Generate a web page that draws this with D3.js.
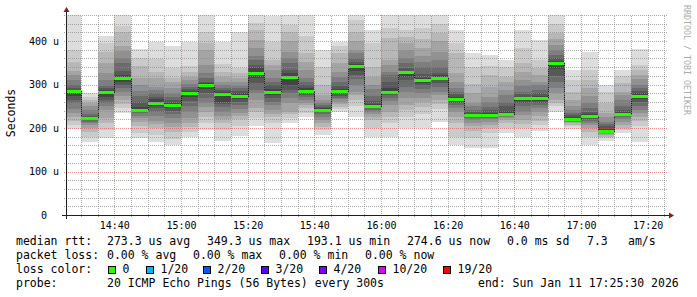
<!DOCTYPE html>
<html>
<head>
<meta charset="utf-8">
<script src="https://d3js.org/d3.v7.min.js"></script>
<style>
  body { margin: 0; background: #fff; }
  svg { display: block; font-family: 'DejaVu Sans Mono', monospace; }
</style>
</head>
<body>
<svg width="697" height="297"></svg>
<script>

// 5 minute bins (start time of each bin)
var binStarts = ['14:25','14:30','14:35','14:40','14:45','14:50','14:55','15:00','15:05','15:10',
  '15:15','15:20','15:25','15:30','15:35','15:40','15:45','15:50','15:55','16:00',
  '16:05','16:10','16:15','16:20','16:25','16:30','16:35','16:40','16:45','16:50',
  '16:55','17:00','17:05','17:10','17:15'];

// median rtt per bin (us)
var medians = [285, 223, 282, 314, 241.5, 258, 252, 281.5, 298, 278,
  274, 326, 282, 318, 286, 242, 285, 343, 251, 283,
  328, 310, 316, 266, 229, 229, 232, 268, 268, 349.3,
  220, 227, 193.1, 233, 274.6];

// the 20 sorted pings per bin (us), used for the smoke
var pings = [
  [197,207,217,226,235,244,257,265,274,283,286,288,293,299,310,322,331,353,380,461],
  [168,180,192,200,207,212,215,218,220,222,224,226,228,232,242,250,257,265,272,280],
  [176,195,212,222,241,251,258,265,272,280,284,288,292,297,310,326,350,376,395,412],
  [235,245,255,265,274,284,292,299,307,312,316,322,332,349,361,378,389,420,434,461],
  [178,189,205,215,222,228,234,237,239,240,243,249,261,274,285,300,315,343,361,382],
  [168,184,199,210,217,228,238,245,250,256,260,266,272,280,288,295,315,330,358,399],
  [161,175,192,202,212,222,232,240,246,250,254,258,265,272,280,292,305,315,338,389],
  [180,192,202,211,222,238,250,263,272,280,283,286,290,295,302,310,318,330,342,399],
  [195,211,225,238,249,258,268,280,290,296,300,303,307,315,326,345,380,395,422,461],
  [171,195,211,220,228,238,249,255,261,276,280,283,288,292,299,306,318,330,348,399],
  [182,205,220,228,234,243,252,260,266,272,276,280,285,292,297,307,315,326,338,422],
  [205,222,238,245,265,280,288,303,315,323,330,338,345,357,365,385,403,425,442,461],
  [165,211,225,232,242,252,261,268,275,280,284,290,299,307,315,334,345,357,397,457],
  [211,222,232,238,258,270,280,288,300,316,320,326,334,349,362,376,400,422,438,461],
  [226,235,245,252,258,265,272,276,280,284,288,292,299,307,315,334,352,372,411,461],
  [184,195,203,211,218,226,232,236,239,241,243,245,248,253,258,265,276,299,340,380],
  [238,243,249,255,261,266,270,274,280,283,287,290,296,307,318,330,350,372,388,399],
  [226,250,265,275,284,300,312,322,332,340,345,348,353,361,372,380,400,422,449,461],
  [180,200,218,226,232,238,242,246,248,250,252,255,262,274,289,300,318,340,395,426],
  [180,211,225,238,253,262,268,275,279,281,285,292,305,322,330,345,357,407,430,461],
  [199,226,242,253,268,282,295,310,318,326,329,332,338,349,362,380,396,410,425,461],
  [199,232,249,260,268,280,290,298,304,309,311,315,325,340,353,365,385,405,430,461],
  [215,243,255,265,275,284,295,303,310,314,318,322,326,340,357,376,400,418,440,461],
  [161,180,211,226,238,245,252,258,262,264,268,272,278,284,292,305,326,372,395,426],
  [153,176,194,205,212,218,222,225,227,228,230,233,237,242,250,258,280,301,340,372],
  [153,188,199,208,215,220,224,226,227,228,230,235,242,249,260,272,295,322,342,368],
  [189,199,211,218,222,226,228,230,231,231,234,240,250,261,275,288,305,318,340,357],
  [180,200,210,219,230,238,250,258,263,267,269,272,278,284,296,311,330,350,384,426],
  [194,207,217,227,238,245,252,258,263,267,269,273,280,288,298,307,322,338,357,403],
  [236,250,258,265,280,292,305,320,335,347,351,355,362,369,380,392,405,419,440,461],
  [197,204,208,211,213,215,216,217,218,219,222,226,230,234,242,250,265,284,311,334],
  [160,180,192,200,207,212,216,220,223,226,228,232,238,246,257,274,292,311,334,374],
  [171,176,180,184,186,188,189,190,191,192,195,198,204,210,215,225,234,257,284,300],
  [188,196,200,208,214,220,225,228,230,232,234,238,242,250,265,275,284,303,319,334],
  [169,205,217,226,234,242,250,260,266,272,276,280,286,292,300,312,323,334,346,382]
];

var yTickValues = [0, 100, 200, 300, 400];
var timeLabels = ['14:40','15:00','15:20','15:40','16:00','16:20','16:40','17:00','17:20'];

var lossLabels = ['0', '1/20', '2/20', '3/20', '4/20', '10/20', '19/20'];
var lossColors = ['#26ff00', '#00b8ff', '#0059ff', '#5e00ff', '#7e00ff', '#dd00ff', '#ff0000'];

var statsRtt = ['273.3 us avg', '349.3 us max', '193.1 us min', '274.6 us now', '0.0 ms sd', '7.3', 'am/s'];
var statsLoss = ['0.00 % avg', '0.00 % max', '0.00 % min', '0.00 % now'];
var probeText = '20 ICMP Echo Pings (56 Bytes) every 300s';
var endText = 'end: Sun Jan 11 17:25:30 2026';

function hm(s) {
  var p = s.split(':');
  return new Date(Date.UTC(2026, 0, 11, +p[0], +p[1], 0));
}
var t0 = new Date(Date.UTC(2026, 0, 11, 14, 25, 30));
var t1 = new Date(Date.UTC(2026, 0, 11, 17, 25, 30));
var step = 5 * 60 * 1000;

var X0 = 66, X1 = 666, Y0 = 215, Y1 = 15;
var x = d3.scaleUtc().domain([t0, t1]).range([X0, X1]);
var y = d3.scaleLinear().domain([0, 460]).range([Y0, Y1]);

var svg = d3.select('svg');

svg.append('defs').append('clipPath').attr('id', 'plot')
  .append('rect').attr('x', X0).attr('y', Y1).attr('width', X1 - X0).attr('height', Y0 - Y1);

var bins = binStarts.map(function(s, i) {
  var a = hm(s);
  return { a: a < t0 ? t0 : a, b: new Date(+hm(s) + step), med: medians[i], p: pings[i] };
});

var plot = svg.append('g').attr('clip-path', 'url(#plot)');

// smoke: band k spans ping k .. ping 21-k, darker towards the median
var bands = [];
bins.forEach(function(d) {
  for (var k = 1; k <= 10; k++) {
    bands.push({ a: d.a, b: d.b, lo: d.p[k - 1], hi: d.p[20 - k], k: k });
  }
});
plot.selectAll('rect.smoke')
  .data(bands)
  .enter().append('rect')
  .attr('class', 'smoke')
  .attr('x', function(d) { return Math.round(x(d.a)); })
  .attr('width', function(d) { return Math.round(x(d.b)) - Math.round(x(d.a)); })
  .attr('y', function(d) { return Math.round(y(d.hi)); })
  .attr('height', function(d) { return Math.max(1, Math.round(y(d.lo)) - Math.round(y(d.hi))); })
  .attr('shape-rendering', 'crispEdges')
  .attr('fill', function(d) {
    var c = Math.floor(19 * (10 - d.k)) + 50;
    return d3.rgb(c, c, c);
  });

// dark median step line
var stepPts = bins.map(function(d) { return [Math.round(x(d.a)), Math.round(y(d.med)) + 0.5]; });
var last = bins[bins.length - 1];
stepPts.push([Math.round(x(last.b)), Math.round(y(last.med)) + 0.5]);
plot.append('path')
  .attr('d', d3.line().curve(d3.curveStepAfter)(stepPts))
  .attr('fill', 'none')
  .attr('stroke', '#202020')
  .attr('stroke-width', 1)
  .attr('shape-rendering', 'crispEdges');

// loss-colored median band (0 loss everywhere)
plot.selectAll('rect.med')
  .data(bins)
  .enter().append('rect')
  .attr('class', 'med')
  .attr('x', function(d) { return Math.round(x(d.a)); })
  .attr('width', function(d) { return Math.round(x(d.b)) - Math.round(x(d.a)); })
  .attr('y', function(d) { return Math.round(y(d.med)) - 1; })
  .attr('height', 3)
  .attr('shape-rendering', 'crispEdges')
  .attr('fill', lossColors[0]);

// grid on top
var grid = svg.append('g').attr('shape-rendering', 'crispEdges');
var minorV = d3.utcMinute.every(5).range(t0, t1);
var majorV = d3.utcMinute.every(20).range(t0, t1);
var minorH = d3.range(0, 461, 20);

grid.selectAll('line.hmin')
  .data(minorH.filter(function(v) { return v % 100 !== 0; }))
  .enter().append('line')
  .attr('x1', X0 - 2).attr('x2', X1 + 2)
  .attr('y1', function(d) { return Math.round(y(d)) + 0.5; })
  .attr('y2', function(d) { return Math.round(y(d)) + 0.5; })
  .attr('stroke', 'rgba(143,143,143,0.75)')
  .attr('stroke-dasharray', '1,1');

grid.selectAll('line.vmin')
  .data(minorV.filter(function(t) { return t.getUTCMinutes() % 20 !== 0; }))
  .enter().append('line')
  .attr('y1', Y0 + 2).attr('y2', Y1)
  .attr('x1', function(d) { return Math.round(x(d)) + 0.5; })
  .attr('x2', function(d) { return Math.round(x(d)) + 0.5; })
  .attr('stroke', 'rgba(143,143,143,0.75)')
  .attr('stroke-dasharray', '1,1');

grid.selectAll('line.hmaj')
  .data(yTickValues.filter(function(v) { return v > 0; }))
  .enter().append('line')
  .attr('x1', X0 - 2).attr('x2', X1 + 2)
  .attr('y1', function(d) { return Math.round(y(d)) + 0.5; })
  .attr('y2', function(d) { return Math.round(y(d)) + 0.5; })
  .attr('stroke', 'rgba(222,79,79,0.6)')
  .attr('stroke-dasharray', '1,1');

grid.selectAll('line.vmaj')
  .data(majorV)
  .enter().append('line')
  .attr('y1', Y0 + 3).attr('y2', Y1)
  .attr('x1', function(d) { return Math.round(x(d)) + 0.5; })
  .attr('x2', function(d) { return Math.round(x(d)) + 0.5; })
  .attr('stroke', 'rgba(222,79,79,0.6)')
  .attr('stroke-dasharray', '1,1');

// axes
var axisCol = '#1f1f1f', arrowCol = '#801f1f';
svg.append('line')
  .attr('x1', X0 - 4).attr('x2', X1 + 4).attr('y1', Y0 + 0.5).attr('y2', Y0 + 0.5)
  .attr('stroke', axisCol).attr('shape-rendering', 'crispEdges');
svg.append('line')
  .attr('x1', X0 + 0.5).attr('x2', X0 + 0.5).attr('y1', Y0 + 4).attr('y2', Y1 - 4)
  .attr('stroke', axisCol).attr('shape-rendering', 'crispEdges');
svg.append('path')
  .attr('d', 'M' + (X1 + 3) + ',' + (Y0 - 2.5) + 'L' + (X1 + 3) + ',' + (Y0 + 3.5) + 'L' + (X1 + 8) + ',' + (Y0 + 0.5) + 'Z')
  .attr('fill', arrowCol);
svg.append('path')
  .attr('d', 'M' + (X0 - 2.5) + ',' + (Y1 - 3) + 'L' + (X0 + 3.5) + ',' + (Y1 - 3) + 'L' + (X0 + 0.5) + ',' + (Y1 - 8) + 'Z')
  .attr('fill', arrowCol);

// y tick labels
var yl = svg.append('g').attr('font-size', 10).attr('fill', '#000');
yl.selectAll('text.num')
  .data(yTickValues)
  .enter().append('text')
  .attr('x', 47)
  .attr('y', function(d) { return y(d) + 3.5; })
  .attr('text-anchor', 'end')
  .text(function(d) { return d; });
yl.selectAll('text.unit')
  .data(yTickValues.filter(function(v) { return v > 0; }))
  .enter().append('text')
  .attr('x', 53)
  .attr('y', function(d) { return y(d) + 3.5; })
  .text('u');

// x tick labels
svg.append('g').attr('font-size', 10)
  .selectAll('text')
  .data(timeLabels)
  .enter().append('text')
  .attr('x', function(d) { return x(hm(d)) + 0.5; })
  .attr('y', 228.5)
  .attr('text-anchor', 'middle')
  .text(function(d) { return d; });

// axis title and watermark
svg.append('text')
  .attr('transform', 'translate(15,113) rotate(-90)')
  .attr('text-anchor', 'middle')
  .attr('font-size', 11.5)
  .text('Seconds');
svg.append('text')
  .attr('transform', 'translate(684,5) rotate(90)')
  .attr('font-size', 8.3)
  .attr('fill', '#aaa')
  .text('RRDTOOL / TOBI OETIKER');

// legend
var lg = svg.append('g').attr('font-size', 11.5).attr('fill', '#000').style('white-space', 'pre');
var rttX = [107, 207, 307, 407, 507, 587, 628];
var lossX = [107, 193, 279, 365];
var boxX = [108, 146, 203, 261, 319, 378, 443];

lg.append('text').attr('x', 16).attr('y', 245).text('median rtt:');
lg.selectAll('text.rtt').data(statsRtt).enter().append('text')
  .attr('x', function(d, i) { return rttX[i]; }).attr('y', 245).text(function(d) { return d; });

lg.append('text').attr('x', 16).attr('y', 259).text('packet loss:');
lg.selectAll('text.loss').data(statsLoss).enter().append('text')
  .attr('x', function(d, i) { return lossX[i]; }).attr('y', 259).text(function(d) { return d; });

lg.append('text').attr('x', 16).attr('y', 273).text('loss color:');
lg.selectAll('rect.box').data(lossColors).enter().append('rect')
  .attr('x', function(d, i) { return boxX[i] + 0.5; })
  .attr('y', 266.5).attr('width', 7).attr('height', 7)
  .attr('fill', function(d) { return d; })
  .attr('stroke', '#000').attr('shape-rendering', 'crispEdges');
lg.selectAll('text.ll').data(lossLabels).enter().append('text')
  .attr('x', function(d, i) { return boxX[i] + 14.5; }).attr('y', 273).text(function(d) { return d; });

lg.append('text').attr('x', 16).attr('y', 287).text('probe:');
lg.append('text').attr('x', 107).attr('y', 287).text(probeText);
lg.append('text').attr('x', 478).attr('y', 287).text(endText);

</script>
</body>
</html>
